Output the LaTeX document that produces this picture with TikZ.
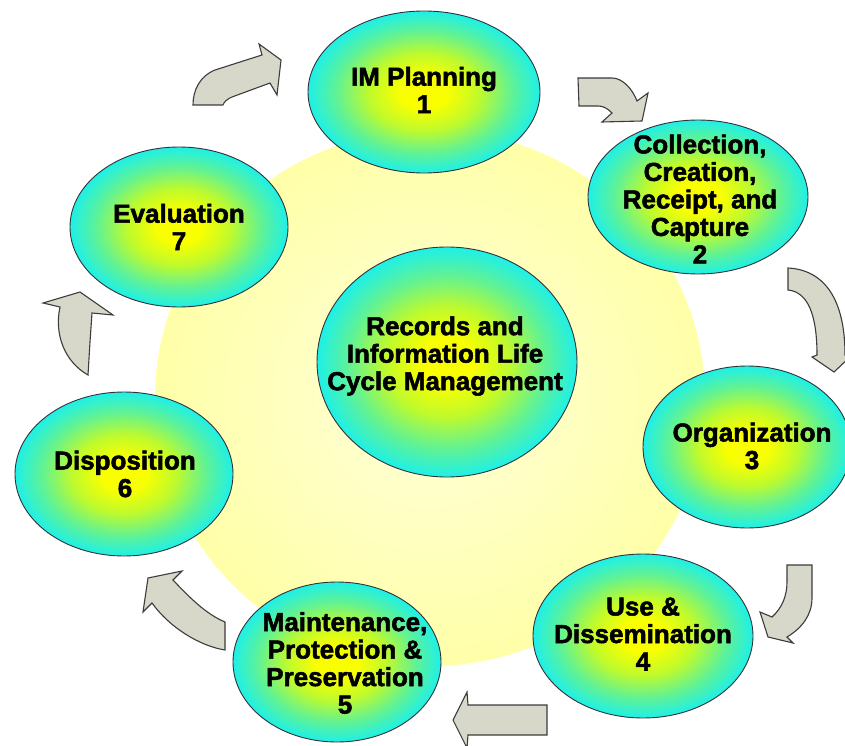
\documentclass[tikz,border=0pt]{standalone}
\usepackage{fontspec}
\setmainfont{Liberation Sans}
\newfontfamily\heavyfont{Liberation Sans Bold}[FakeBold=2]
\usetikzlibrary{shapes.geometric}
\definecolor{bubA}{RGB}{250,255,0}
\definecolor{bubB}{RGB}{190,250,45}
\definecolor{bubC}{RGB}{95,242,150}
\definecolor{bubD}{RGB}{30,240,232}
\definecolor{bgA}{RGB}{255,255,218}
\definecolor{bgB}{RGB}{255,255,168}
\definecolor{arrowfill}{RGB}{216,216,202}
\definecolor{arrowline}{RGB}{60,60,60}
\pgfdeclareradialshading{bubshade}{\pgfpoint{0bp}{0bp}}{color(0bp)=(bubA); color(5bp)=(bubA); color(12bp)=(bubB); color(19bp)=(bubC); color(25bp)=(bubD); color(50bp)=(bubD)}
\pgfdeclareradialshading{bgshade}{\pgfpoint{0bp}{0bp}}{color(0bp)=(bgA); color(25bp)=(bgB); color(50bp)=(bgB)}
\begin{document}
\begin{tikzpicture}[x=1pt,y=-1pt,
  bubble/.style={ellipse, draw=black!80, line width=0.9pt, shading=bubshade, inner sep=0pt},
  lbl/.style={align=center, font=\fontsize{26}{27.5}\selectfont\heavyfont, text=black, inner sep=0pt},
  blockarrow/.style={fill=arrowfill, draw=arrowline, line width=1.1pt, line join=miter}]
\useasboundingbox (0,0) rectangle (845,746);
\fill[white] (0,0) rectangle (845,746);
% pale yellow disc
\node[ellipse, shading=bgshade, inner sep=0pt, minimum width=550pt, minimum height=536pt] (bg) at (430,398) {};
% block arrows
\draw[blockarrow] (193,105) .. controls (193,90) and (200,76) .. (215,70) -- (262,55) -- (259,44) -- (281,60) -- (277,95) -- (270,83) -- (232,97) .. controls (227,99) and (224,102) .. (223,105) -- cycle;
\draw[blockarrow] (578,78) -- (612,78) .. controls (622,78) and (632,88) .. (637,101) -- (648,93) -- (642,121) -- (602,122) -- (612,113) .. controls (607,108) and (603,106) .. (598,106) -- (579,106) -- cycle;
\draw[blockarrow] (788,268) .. controls (825,270) and (845,300) .. (845,355) -- (852,355) -- (834,372) -- (812,357) -- (817,355) .. controls (817,315) and (808,292) .. (788,290) -- cycle;
\draw[blockarrow] (787,565) -- (812,565) -- (812,598) .. controls (812,615) and (802,628) .. (787,637) -- (793,643) -- (768,637) -- (760,612) -- (772,617) .. controls (782,608) and (787,596) .. (787,582) -- cycle;
\draw[blockarrow] (547,705) -- (468,705) -- (467,692) -- (453,720) -- (467,748) -- (468,735) -- (547,735) -- cycle;
\draw[blockarrow] (225,622) -- (225,650) .. controls (200,646) and (170,628) .. (152,603) -- (143,612) -- (148,578) -- (182,571) -- (173,580) .. controls (190,598) and (206,614) .. (225,622) -- cycle;
\draw[blockarrow] (88,375) .. controls (65,362) and (54,335) .. (60,307) -- (43,303) -- (80,292) -- (113,315) -- (92,313) -- (90,342) -- cycle;
% bubbles
\node[bubble, minimum width=232pt, minimum height=162pt] (n1) at (424,92) {};
\node[bubble, minimum width=220pt, minimum height=154pt] (n2) at (698,197) {};
\node[bubble, minimum width=208pt, minimum height=162pt] (n3) at (747,447) {};
\node[bubble, minimum width=220pt, minimum height=164pt] (n4) at (643,636) {};
\node[bubble, minimum width=208pt, minimum height=160pt] (n5) at (337,662) {};
\node[bubble, minimum width=218pt, minimum height=164pt] (n6) at (124,474) {};
\node[bubble, minimum width=218pt, minimum height=160pt] (n7) at (179,227) {};
\node[bubble, minimum width=260pt, minimum height=230pt] (nc) at (447,362) {};
% labels
\node[lbl] (t1) at (424,90) {IM Planning\\1};
\node[lbl] (t2) at (700,199) {Collection,\\Creation,\\Receipt, and\\Capture\\2};
\node[lbl] (t3) at (752,446) {Organization\\3};
\node[lbl] (t4) at (643,634) {Use \&\\Dissemination\\4};
\node[lbl] (t5) at (345,663) {Maintenance,\\Protection \&\\Preservation\\5};
\node[lbl] (t6) at (125,474) {Disposition\\6};
\node[lbl] (t7) at (179,227) {Evaluation\\7};
\node[lbl] (tc) at (445,356) {Records and\\Information Life\\Cycle Management};
\end{tikzpicture}
\end{document}
